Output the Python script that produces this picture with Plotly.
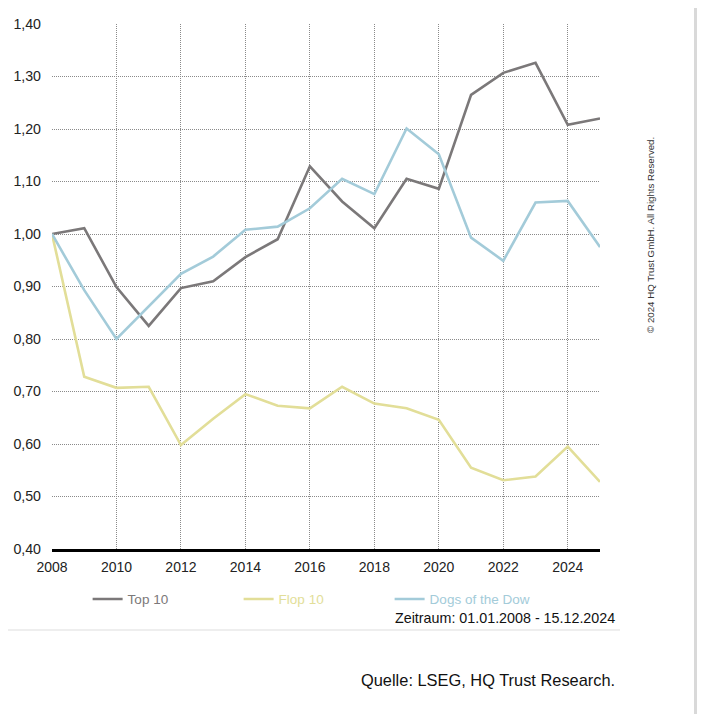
import plotly.graph_objects as go

years = list(range(2008, 2026))
top10 = [1.000, 1.011, 0.899, 0.825, 0.897, 0.910, 0.956, 0.990, 1.129, 1.062,
         1.011, 1.105, 1.086, 1.265, 1.307, 1.326, 1.208, 1.220]
flop10 = [1.000, 0.728, 0.707, 0.709, 0.598, 0.648, 0.695, 0.673, 0.668, 0.709,
          0.677, 0.668, 0.646, 0.555, 0.531, 0.538, 0.595, 0.528]
dogs = [1.000, 0.893, 0.800, 0.863, 0.924, 0.957, 1.008, 1.014, 1.049, 1.105,
        1.076, 1.201, 1.152, 0.993, 0.949, 1.060, 1.063, 0.975]

series = [("Top 10", top10, "#7b7879"),
          ("Flop 10", flop10, "#e2de98"),
          ("Dogs of the Dow", dogs, "#a3cbd9")]

fig = go.Figure()
for name, vals, col in series:
    fig.add_trace(go.Scatter(
        x=years, y=vals, mode="lines",
        name=f"<span style='color:{col}'>{name}</span>",
        line=dict(color=col, width=2.6),
    ))

FONT = "Liberation Sans, Arial, sans-serif"
GRID = dict(showgrid=True, gridcolor="#8a8a8a", griddash="1px,1px", gridwidth=1)
fig.update_layout(
    width=705, height=714,
    margin=dict(l=44, r=113, t=16, b=173, autoexpand=False),
    paper_bgcolor="white", plot_bgcolor="white",
    separators=",.",
    font=dict(family=FONT, size=13, color="#222"),
    showlegend=True,
    legend=dict(orientation="h", x=0.065, xanchor="left", y=-0.066, yanchor="top",
                entrywidth=106, entrywidthmode="pixels",
                font=dict(family=FONT, size=13.5), bgcolor="rgba(0,0,0,0)"),
    xaxis=dict(range=[2008, 2025], tick0=2008, dtick=2, **GRID, automargin=False,
               showline=True, linecolor="black", linewidth=3, zeroline=False,
               ticks="", ticklabelstandoff=3, tickfont=dict(size=14, color="#222")),
    yaxis=dict(range=[0.4, 1.4], tick0=0.4, dtick=0.1, tickformat=".2f", **GRID,
               automargin=False,
               zeroline=False, showline=False, ticks="", ticklabelstandoff=10,
               tickfont=dict(size=14.2, color="#222")),
    shapes=[
        dict(type="line", xref="paper", yref="paper", x0=-0.11, x1=1.0365,
             y0=-0.1543, y1=-0.1543, line=dict(color="#eeeeee", width=2)),
        dict(type="rect", xref="paper", yref="paper", x0=1.1715, x1=1.186,
             y0=-0.34, y1=1.06, fillcolor="#d9d9d9", line=dict(width=0)),
    ],
    annotations=[
        dict(text="Zeitraum: 01.01.2008 - 15.12.2024", xref="paper", yref="paper",
             x=1.031, y=-0.1314, xanchor="right", yanchor="middle", showarrow=False,
             font=dict(size=14.3, color="#111")),
        dict(text="Quelle: LSEG, HQ Trust Research.", xref="paper", yref="paper",
             x=1.031, y=-0.2495, xanchor="right", yanchor="middle", showarrow=False,
             font=dict(size=16.4, color="#111")),
        dict(text="© 2024 HQ Trust GmbH. All Rights Reserved.", xref="paper", yref="paper",
             x=1.091, y=0.598, xanchor="center", yanchor="middle", showarrow=False,
             textangle=-90, font=dict(size=9.7, color="#333")),
    ],
)

fig.write_html("out.html")
